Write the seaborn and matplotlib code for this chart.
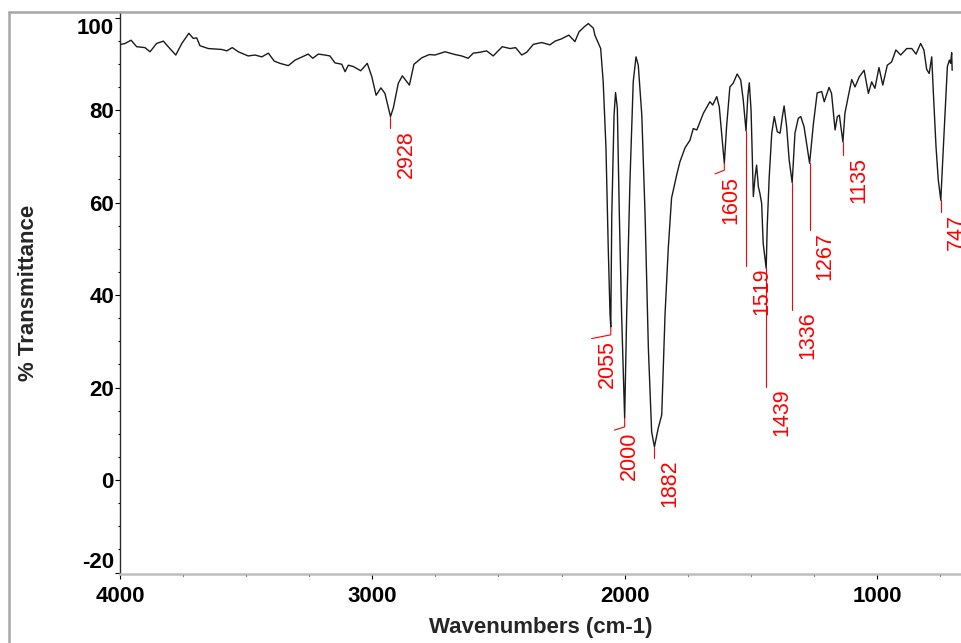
import matplotlib
matplotlib.use("Agg")
import matplotlib.pyplot as plt
from matplotlib.lines import Line2D
from matplotlib.ticker import MultipleLocator
import numpy as np
import pandas as pd
import seaborn as sns

# IR spectrum: wavenumber (cm-1) and % transmittance
wavenumber = [
    4000, 3996, 3980, 3956, 3934, 3901, 3881, 3855, 3828, 3809, 3779, 3755,
    3727, 3710, 3696, 3683, 3650, 3597, 3577, 3555, 3531, 3492, 3465, 3438,
    3412, 3389, 3366, 3333, 3306, 3254, 3236, 3214, 3188, 3168, 3148, 3121,
    3108, 3095, 3075, 3046, 3020, 3002, 2985, 2966, 2950, 2928, 2917, 2897,
    2881, 2853, 2835, 2804, 2774, 2752, 2712, 2672, 2646, 2620, 2600, 2573,
    2547, 2521, 2485, 2454, 2432, 2408, 2388, 2362, 2329, 2296, 2276, 2250,
    2236, 2221, 2197, 2181, 2160, 2144, 2124, 2118, 2104, 2095, 2085, 2074,
    2065, 2058, 2055, 2051, 2042, 2036, 2029, 2021, 2012, 2000, 1992, 1979,
    1966, 1955, 1946, 1932, 1919, 1906, 1893, 1882, 1867, 1853, 1840, 1827,
    1814, 1794, 1781, 1761, 1741, 1728, 1714, 1688, 1662, 1651, 1635, 1625,
    1605, 1596, 1583, 1570, 1554, 1540, 1530, 1519, 1512, 1506, 1499, 1490,
    1483, 1477, 1470, 1464, 1457, 1451, 1439, 1435, 1427, 1417, 1407, 1395,
    1384, 1374, 1368, 1358, 1348, 1336, 1325, 1312, 1302, 1289, 1267, 1252,
    1237, 1219, 1209, 1190, 1180, 1166, 1157, 1149, 1135, 1127, 1114, 1100,
    1087, 1070, 1051, 1034, 1021, 1008, 992, 977, 959, 942, 925, 906,
    882, 862, 845, 827, 814, 803, 793, 783, 777, 766, 757, 747,
    740, 730, 721, 713, 708, 704, 702,
]
transmittance = [
    94.0, 94.2, 94.4, 95.1, 93.7, 93.5, 92.6, 94.4, 94.9, 93.7, 91.9, 94.4,
    96.6, 95.5, 95.6, 93.9, 93.3, 93.1, 92.8, 93.5, 92.6, 91.7, 91.9, 91.5,
    92.3, 90.6, 90.1, 89.6, 90.8, 92.1, 91.2, 92.1, 91.9, 91.7, 90.2, 89.9,
    88.3, 89.7, 89.4, 88.5, 90.1, 87.2, 83.2, 84.8, 83.6, 78.6, 80.4, 85.8,
    87.4, 85.4, 89.9, 91.3, 92.0, 91.9, 92.6, 92.0, 91.7, 91.2, 92.3, 92.5,
    92.8, 91.7, 93.7, 93.3, 93.5, 91.9, 92.5, 94.2, 94.6, 94.1, 94.9, 95.4,
    95.8, 96.2, 94.8, 96.9, 98.0, 98.7, 97.7, 96.2, 94.4, 93.3, 86.1, 71.8,
    50.2, 36.0, 33.1, 57.3, 78.9, 83.8, 80.4, 57.3, 35.7, 13.4, 35.7, 64.5,
    86.1, 91.5, 89.7, 78.9, 57.3, 28.5, 10.4, 7.2, 11.2, 14.1, 35.7, 50.2,
    61.0, 65.9, 68.8, 71.8, 73.5, 76.0, 75.7, 79.3, 81.8, 81.1, 82.9, 80.7,
    68.5, 76.4, 85.0, 85.8, 87.8, 86.5, 82.2, 75.5, 82.9, 85.9, 80.0, 61.3,
    65.6, 68.1, 63.4, 62.0, 59.8, 51.2, 45.8, 54.8, 65.6, 75.0, 78.6, 75.3,
    75.0, 78.9, 80.9, 76.4, 69.2, 64.3, 75.0, 78.2, 78.6, 76.4, 68.5, 77.0,
    83.7, 84.0, 81.8, 84.9, 83.6, 75.7, 78.6, 78.9, 73.1, 79.3, 82.9, 86.6,
    85.0, 87.2, 88.6, 83.6, 86.1, 84.7, 89.2, 85.4, 89.7, 90.4, 93.0, 91.9,
    93.3, 93.3, 92.1, 94.4, 93.0, 88.8, 87.9, 91.5, 84.3, 72.1, 64.9, 60.5,
    68.5, 79.3, 89.4, 90.8, 90.1, 92.4, 88.6,
]

# Labelled absorption bands
peak_labels = ["2928", "2055", "2000", "1882", "1605", "1519",
               "1439", "1336", "1267", "1135", "747"]
peak_positions = [2928, 2055, 2000, 1882, 1605, 1519, 1439, 1336, 1267, 1135, 747]

x_ticks = [4000, 3000, 2000, 1000]
y_ticks = [-20, 0, 20, 40, 60, 80, 100]

# Leader-line layout: where each vertical drop ends, plus an optional sideways kink
leader_end = {"2928": 76.1, "2055": 31.4, "2000": 11.5, "1882": 4.8,
              "1605": 67.0, "1519": 46.3, "1439": 20.2, "1336": 36.8,
              "1267": 54.1, "1135": 70.3, "747": 57.9}
leader_kink = {"2055": (2131, 30.6), "2000": (2041, 10.8), "1605": (1642, 66.2)}

sns.set_style("ticks")
plt.rcParams["font.family"] = ["Liberation Sans", "DejaVu Sans"]

W, H = 962, 643
fig = plt.figure(figsize=(W / 100, H / 100), dpi=100)
ax = fig.add_axes([120 / W, 1 - 574 / H, 842 / W, 562 / H])

df = pd.DataFrame({"Wavenumber": wavenumber, "Transmittance": transmittance})
sns.lineplot(data=df, x="Wavenumber", y="Transmittance", ax=ax,
             color="#1a1a1a", linewidth=1.0, estimator=None, sort=False)

ax.set_xlim(4000, 663)
ax.set_ylim(-20.3, 101.2)

ax.set_xticks(x_ticks)
ax.set_yticks(y_ticks)
ax.set_xticklabels([str(v) for v in x_ticks])
ax.set_yticklabels([str(v) for v in y_ticks])
ax.xaxis.set_minor_locator(MultipleLocator(250))
ax.yaxis.set_minor_locator(MultipleLocator(5))

ax.tick_params(which="major", direction="out", length=3.6, width=0.8, color="black")
ax.tick_params(which="minor", direction="out", length=1.6, width=0.8, color="black")
ax.tick_params(axis="x", which="major", pad=5)
ax.tick_params(axis="y", which="major", pad=0.8)
for lab in ax.get_xticklabels() + ax.get_yticklabels():
    lab.set_fontsize(16)
    lab.set_fontweight("bold")
    lab.set_color("black")

# keep the end labels inside the plotting frame
yt = ax.yaxis.get_major_ticks()
yt[-1].label1.set_va("top")
yt[0].label1.set_va("bottom")

ax.set_xlabel("Wavenumbers (cm-1)", fontsize=16, fontweight="bold")
ax.set_ylabel("% Transmittance", fontsize=16, fontweight="bold")
ax.xaxis.set_label_coords(0.5, -0.0765)
ax.yaxis.set_label_coords(-0.0967, 0.5)

ax.spines["right"].set_visible(False)
ax.spines["top"].set_visible(False)
ax.spines["left"].set_color("#2a2a2a")
ax.spines["left"].set_linewidth(1.0)
ax.spines["bottom"].set_color("#bdbdbd")
ax.spines["bottom"].set_linewidth(1.8)

# peak annotations
lookup = dict(zip(wavenumber, transmittance))
for lab, pos in zip(peak_labels, peak_positions):
    t_peak = lookup[pos]
    xs = [pos, pos]
    ys = [t_peak, leader_end[lab]]
    if lab in leader_kink:
        kx, ky = leader_kink[lab]
        xs.append(kx)
        ys.append(ky)
    ax.plot(xs, ys, color="#ff0000", linewidth=0.8)
    ax.annotate(lab, xy=(xs[-1], ys[-1]), xytext=(3.6, -1.4),
                textcoords="offset points", rotation=90, ha="left", va="top",
                color="#ff0000", fontsize=15.5, annotation_clip=False)

# outer frame
frame_kw = dict(transform=fig.transFigure, color="#a6a6a6", linewidth=1.8)
fig.add_artist(Line2D([9 / W, 9 / W], [0, 1 - 12 / H], **frame_kw))
fig.add_artist(Line2D([9 / W, 1], [1 - 12 / H, 1 - 12 / H], **frame_kw))

fig.savefig("out.png", dpi=100)
